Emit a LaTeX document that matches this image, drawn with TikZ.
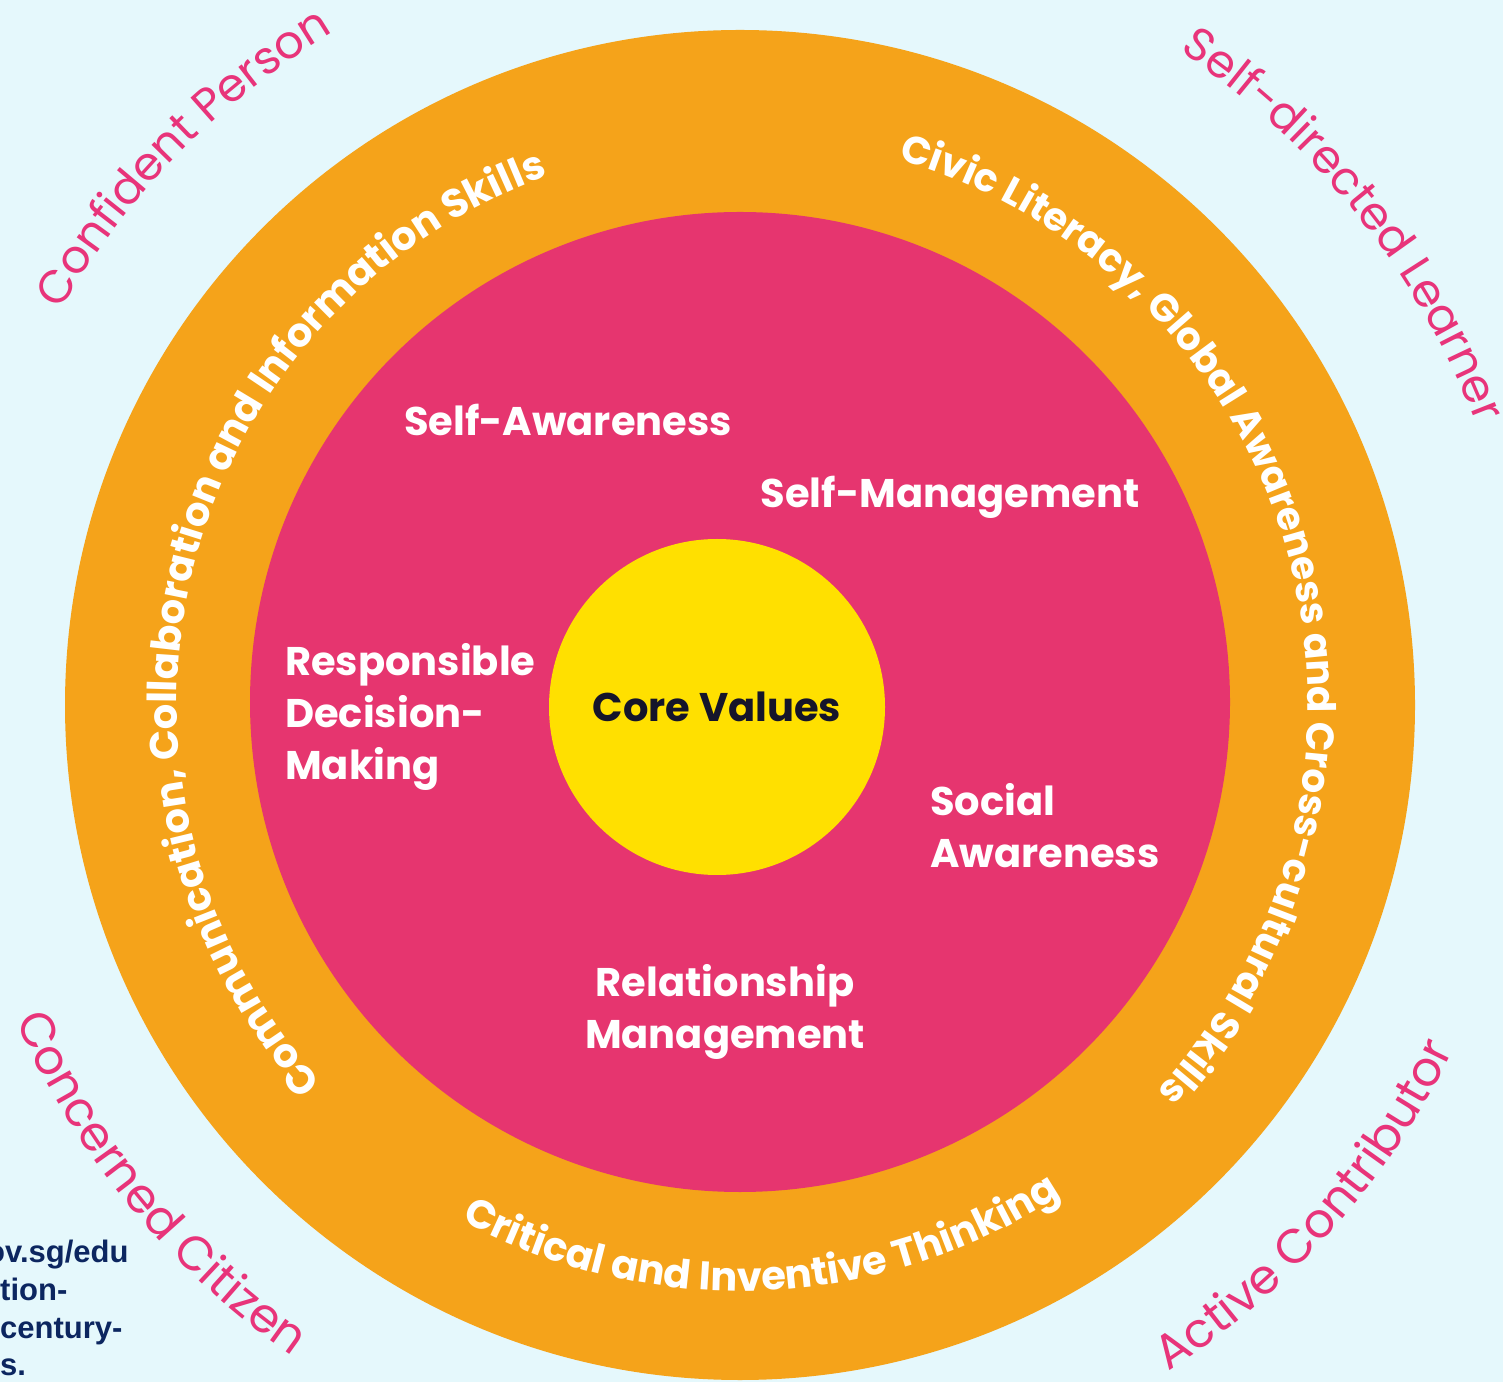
\documentclass[tikz,border=0pt]{standalone}
\usepackage{fontspec}
\setmainfont{Poppins}
\newfontfamily\arialfont{Liberation Sans}
\usetikzlibrary{decorations.text}
\definecolor{bgc}{HTML}{E5F8FC}
\definecolor{orangec}{HTML}{F5A31A}
\definecolor{pinkc}{HTML}{E6356F}
\definecolor{yellowc}{HTML}{FFE000}
\definecolor{pinktext}{HTML}{E8347A}
\definecolor{navyc}{HTML}{0C2660}
\definecolor{darkc}{HTML}{15152A}
\newcommand{\ringfont}{\fontsize{40}{44}\selectfont\bfseries}
\newcommand{\ringfontb}{\fontsize{39}{44}\selectfont\bfseries}
\newcommand{\outerfont}{\fontsize{46}{50}\selectfont}
\newcommand{\outerfontb}{\fontsize{48}{52}\selectfont}
\tikzset{
  disc/.style={circle, inner sep=0pt, draw=none},
  lab/.style={text=white, font=\fontsize{40}{52}\selectfont\bfseries, inner sep=0pt},
  src/.style={anchor=base west, inner sep=0pt, text=navyc, font=\arialfont\bfseries\fontsize{31}{38}\selectfont},
  ringtext/.style={decorate, decoration={text along path, text align=center, text color=white, text={|\ringfont|#1}}},
  ringtextb/.style={decorate, decoration={text along path, text align=center, text color=white, text={|\ringfontb|#1}}},
  outertext/.style={decorate, decoration={text along path, text align=center, text color=pinktext, text={|\outerfont|#1}}},
  outertextb/.style={decorate, decoration={text along path, text align=center, text color=pinktext, text={|\outerfontb|#1}}}
}
\begin{document}
\begin{tikzpicture}[x=1pt,y=1pt]
\useasboundingbox (0,0) rectangle (1503,1382);
\fill[bgc] (0,0) rectangle (1503,1382);
\coordinate (O) at (740,677);
\node[disc, fill=orangec, minimum size=1350pt] (ring) at (O) {};
\node[disc, fill=pinkc, minimum size=980pt] (mid) at (740,680) {};
\node[disc, fill=yellowc, minimum size=336pt] (core) at (717,675) {};

% curved texts in the orange ring
\path[ringtext={Communication, Collaboration and Information Skills}]
  (O) ++(242:563) arc[start angle=242, end angle=90, radius=563];
\path[ringtextb={Civic Literacy, Global Awareness and Cross-cultural Skills}]
  (O) ++(95:568) arc[start angle=95, end angle=-64, radius=568];
\path[ringtext={Critical and Inventive Thinking}]
  (O) ++(222:586) arc[start angle=222, end angle=322.8, radius=586];

% outer labels
\path[outertext={Confident Person}]
  (O) ++(175:786) arc[start angle=175, end angle=96, radius=786];
\path[outertext={Self-directed Learner}]
  (O) ++(80:788) arc[start angle=80, end angle=-3, radius=788];
\path[outertextb={Concerned Citizen}]
  (O) ++(179.5:790) arc[start angle=179.5, end angle=259.5, radius=790];
\path[outertextb={Active Contributor}]
  (O) ++(279:792) arc[start angle=279, end angle=358, radius=792];

% inner labels
\node[lab] (sa) at (568,962) {Self-Awareness};
\node[lab] (sm) at (950,885) {Self-Management};
\node[lab, anchor=west, align=left] (rdm) at (285,665) {Responsible\\Decision-\\Making};
\node[lab, anchor=west, align=left] (soc) at (930,556) {Social\\Awareness};
\node[lab, align=center] (rm) at (725,370) {Relationship\\Management};
\node[lab, text=darkc] (cv) at (core) {Core Values};

% source text
\node[src] (s1) at (-14,120) {ov.sg/edu};
\node[src] (s2) at (0,82) {tion-};
\node[src] (s3) at (0,44) {century-};
\node[src] (s4) at (0,7) {s.};
\end{tikzpicture}
\end{document}
